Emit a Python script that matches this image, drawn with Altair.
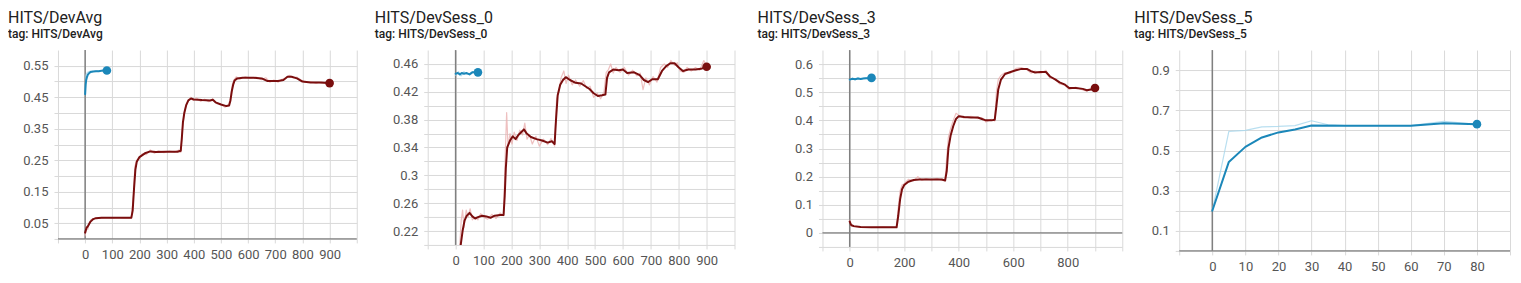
import altair as alt
import pandas as pd

FONT = "Roboto"
GRID = "#d9d9d9"
ZERO = "#808080"
RED = "#7a0e0e"
RED_RAW = "#eab0b0"
BLUE = "#1b87b9"
BLUE_RAW = "#a7d7ec"
TXT = "#212121"
LBL = "#555555"

# ---------------- Panel 1: HITS/DevAvg ----------------
P1_RED = [(0, 0.02), (5, 0.035), (10, 0.04), (20, 0.055), (30, 0.063), (40, 0.066), (60, 0.067),
          (100, 0.067), (140, 0.067), (170, 0.067), (175, 0.09), (180, 0.16), (185, 0.22), (190, 0.245),
          (200, 0.26), (220, 0.272), (240, 0.278), (260, 0.276), (300, 0.277), (340, 0.277), (352, 0.28),
          (356, 0.32), (360, 0.37), (365, 0.40), (372, 0.425), (380, 0.44), (390, 0.446), (400, 0.443),
          (430, 0.441), (460, 0.44), (470, 0.442), (480, 0.434), (500, 0.427), (520, 0.422), (530, 0.424),
          (535, 0.44), (540, 0.47), (545, 0.49), (550, 0.503), (560, 0.51), (580, 0.512), (620, 0.512),
          (650, 0.51), (670, 0.502), (690, 0.502), (710, 0.502), (730, 0.505), (745, 0.515), (760, 0.515),
          (780, 0.51), (800, 0.5), (830, 0.497), (860, 0.497), (900, 0.495)]
P1_RED_RAW = [(0, 0.01), (5, 0.04), (10, 0.03), (15, 0.05), (20, 0.06), (30, 0.065), (45, 0.068), (60, 0.066),
              (80, 0.068), (100, 0.066), (120, 0.068), (140, 0.066), (160, 0.067), (170, 0.066), (178, 0.14),
              (183, 0.23), (190, 0.25), (200, 0.255), (210, 0.27), (225, 0.268), (240, 0.283), (255, 0.272),
              (270, 0.28), (290, 0.274), (310, 0.279), (330, 0.276), (345, 0.282), (352, 0.275), (358, 0.35),
              (364, 0.39), (370, 0.42), (378, 0.435), (388, 0.45), (398, 0.44), (410, 0.448), (425, 0.437),
              (440, 0.444), (455, 0.436), (470, 0.445), (485, 0.43), (500, 0.428), (515, 0.418), (528, 0.426),
              (536, 0.45), (542, 0.49), (548, 0.505), (556, 0.515), (570, 0.508), (590, 0.515), (610, 0.51),
              (630, 0.514), (650, 0.506), (665, 0.512), (680, 0.498), (695, 0.505), (710, 0.498), (725, 0.507),
              (740, 0.512), (752, 0.52), (765, 0.512), (780, 0.514), (795, 0.505), (810, 0.497), (830, 0.5),
              (850, 0.494), (870, 0.499), (890, 0.493), (900, 0.496)]
P1_BLUE = [(0, 0.46), (2, 0.49), (4, 0.505), (7, 0.515), (10, 0.522), (15, 0.527), (20, 0.53), (30, 0.532),
           (40, 0.533), (50, 0.533), (60, 0.534), (70, 0.535), (80, 0.535)]
P1_BLUE_RAW = [(0, 0.46), (3, 0.52), (5, 0.525), (10, 0.53), (20, 0.533), (30, 0.532), (40, 0.535),
               (50, 0.533), (60, 0.535), (70, 0.536), (80, 0.535)]

# ---------------- Panel 2: HITS/DevSess_0 ----------------
P2_RED = [(15, 0.19), (20, 0.205), (25, 0.22), (32, 0.235), (40, 0.242), (50, 0.246), (60, 0.241), (70, 0.238),
          (80, 0.24), (95, 0.242), (110, 0.241), (125, 0.239), (140, 0.242), (160, 0.243), (172, 0.243),
          (176, 0.27), (180, 0.31), (185, 0.34), (195, 0.35), (205, 0.356), (215, 0.352), (225, 0.358),
          (235, 0.362), (245, 0.366), (255, 0.36), (270, 0.355), (290, 0.352), (310, 0.35), (330, 0.347),
          (345, 0.349), (355, 0.345), (360, 0.38), (366, 0.415), (375, 0.43), (385, 0.437), (395, 0.441),
          (410, 0.437), (430, 0.433), (450, 0.432), (465, 0.428), (480, 0.424), (495, 0.418), (510, 0.414),
          (525, 0.415), (537, 0.416), (543, 0.44), (550, 0.448), (565, 0.452), (585, 0.451), (600, 0.452),
          (615, 0.447), (640, 0.448), (660, 0.444), (675, 0.437), (690, 0.434), (705, 0.438), (725, 0.438),
          (740, 0.45), (755, 0.457), (770, 0.461), (785, 0.461), (800, 0.455), (815, 0.45), (835, 0.452),
          (860, 0.452), (880, 0.453), (900, 0.456)]
P2_RED_RAW = [(15, 0.2), (20, 0.235), (25, 0.25), (30, 0.225), (38, 0.25), (45, 0.24), (52, 0.252), (60, 0.236),
              (70, 0.24), (80, 0.236), (90, 0.245), (100, 0.24), (115, 0.237), (130, 0.244), (145, 0.238),
              (160, 0.246), (172, 0.242), (178, 0.33), (183, 0.39), (188, 0.34), (195, 0.36), (202, 0.345),
              (210, 0.362), (220, 0.35), (230, 0.365), (240, 0.358), (248, 0.375), (256, 0.352), (265, 0.358),
              (275, 0.345), (288, 0.356), (300, 0.342), (315, 0.352), (330, 0.344), (342, 0.353), (355, 0.342),
              (362, 0.41), (370, 0.42), (378, 0.44), (388, 0.45), (396, 0.432), (405, 0.444), (418, 0.43),
              (430, 0.437), (445, 0.428), (458, 0.436), (470, 0.425), (482, 0.428), (495, 0.412), (508, 0.418),
              (520, 0.41), (532, 0.42), (540, 0.448), (548, 0.452), (556, 0.46), (565, 0.447), (575, 0.455),
              (590, 0.448), (605, 0.455), (620, 0.444), (635, 0.451), (650, 0.443), (662, 0.447), (672, 0.423),
              (682, 0.44), (695, 0.43), (708, 0.442), (722, 0.434), (735, 0.455), (748, 0.46), (760, 0.455),
              (772, 0.465), (785, 0.458), (795, 0.462), (805, 0.45), (818, 0.448), (830, 0.455), (845, 0.45),
              (860, 0.455), (875, 0.451), (890, 0.465), (900, 0.457)]
P2_BLUE = [(0, 0.446), (8, 0.447), (15, 0.445), (22, 0.447), (30, 0.446), (40, 0.447), (50, 0.445),
           (60, 0.448), (70, 0.448), (80, 0.448)]
P2_BLUE_RAW = [(0, 0.444), (10, 0.449), (20, 0.443), (30, 0.449), (40, 0.445), (50, 0.446), (60, 0.449),
               (70, 0.447), (80, 0.449)]

# ---------------- Panel 3: HITS/DevSess_3 ----------------
P3_RED = [(0, 0.04), (5, 0.028), (15, 0.024), (40, 0.021), (80, 0.02), (120, 0.02), (172, 0.02), (178, 0.06),
          (185, 0.12), (192, 0.155), (200, 0.17), (215, 0.182), (235, 0.188), (255, 0.19), (275, 0.19),
          (300, 0.19), (320, 0.19), (338, 0.19), (350, 0.186), (356, 0.22), (362, 0.3), (370, 0.345),
          (380, 0.38), (390, 0.405), (400, 0.415), (420, 0.412), (445, 0.41), (470, 0.41), (485, 0.405),
          (500, 0.4), (520, 0.4), (532, 0.402), (538, 0.45), (545, 0.51), (555, 0.545), (570, 0.565),
          (590, 0.572), (610, 0.578), (630, 0.583), (650, 0.583), (665, 0.575), (680, 0.57), (700, 0.572),
          (720, 0.572), (735, 0.556), (755, 0.545), (770, 0.535), (790, 0.527), (805, 0.515), (830, 0.515),
          (855, 0.512), (870, 0.507), (885, 0.51), (900, 0.515)]
P3_RED_RAW = [(0, 0.045), (5, 0.025), (15, 0.022), (40, 0.02), (80, 0.019), (120, 0.021), (172, 0.019),
              (178, 0.09), (185, 0.15), (192, 0.17), (200, 0.175), (215, 0.19), (235, 0.186), (250, 0.2),
              (265, 0.187), (280, 0.193), (300, 0.188), (320, 0.194), (338, 0.186), (350, 0.19), (356, 0.27),
              (362, 0.34), (370, 0.37), (380, 0.4), (390, 0.425), (400, 0.418), (420, 0.408), (445, 0.414),
              (470, 0.406), (485, 0.41), (500, 0.394), (520, 0.404), (532, 0.398), (538, 0.5), (545, 0.545),
              (555, 0.56), (570, 0.57), (590, 0.568), (610, 0.585), (630, 0.588), (650, 0.58), (665, 0.568),
              (680, 0.575), (700, 0.567), (720, 0.578), (735, 0.55), (755, 0.548), (770, 0.53), (790, 0.525),
              (805, 0.51), (830, 0.518), (855, 0.508), (870, 0.504), (885, 0.513), (900, 0.516)]
P3_BLUE = [(0, 0.545), (10, 0.548), (20, 0.546), (30, 0.549), (40, 0.547), (50, 0.549), (60, 0.55),
           (70, 0.55), (80, 0.551)]
P3_BLUE_RAW = [(0, 0.543), (10, 0.55), (20, 0.544), (30, 0.551), (40, 0.546), (50, 0.55), (60, 0.551),
               (70, 0.549), (80, 0.552)]

# ---------------- Panel 4: HITS/DevSess_5 ----------------
P4_BLUE = [(0, 0.2), (5, 0.443), (10, 0.518), (15, 0.565), (20, 0.59), (25, 0.605), (30, 0.624), (40, 0.623),
           (50, 0.623), (60, 0.623), (70, 0.636), (80, 0.631)]
P4_BLUE_RAW = [(0, 0.2), (5, 0.595), (10, 0.6), (15, 0.618), (20, 0.62), (25, 0.624), (30, 0.648), (35, 0.628),
               (40, 0.624), (50, 0.624), (60, 0.624), (70, 0.645), (80, 0.63)]

# axis tick/grid values and shown labels
X_GRID_LONG = [-100, 0, 100, 200, 300, 400, 500, 600, 700, 800, 900, 1000]
X_LAB_100 = [0, 100, 200, 300, 400, 500, 600, 700, 800, 900]
X_LAB_200 = [0, 200, 400, 600, 800]
X_GRID_SHORT = [-10, 0, 10, 20, 30, 40, 50, 60, 70, 80, 90]
X_LAB_SHORT = [0, 10, 20, 30, 40, 50, 60, 70, 80]

Y1_GRID = [0, 0.05, 0.1, 0.15, 0.2, 0.25, 0.3, 0.35, 0.4, 0.45, 0.5, 0.55]
Y1_LAB = ["0.05", "0.15", "0.25", "0.35", "0.45", "0.55"]
Y2_GRID = [0.2, 0.22, 0.24, 0.26, 0.28, 0.3, 0.32, 0.34, 0.36, 0.38, 0.4, 0.42, 0.44, 0.46]
Y2_LAB = ["0.22", "0.26", "0.3", "0.34", "0.38", "0.42", "0.46"]
Y3_GRID = [-0.05, 0, 0.05, 0.1, 0.15, 0.2, 0.25, 0.3, 0.35, 0.4, 0.45, 0.5, 0.55, 0.6]
Y3_LAB = ["0", "0.1", "0.2", "0.3", "0.4", "0.5", "0.6"]
Y4_GRID = [0, 0.1, 0.2, 0.3, 0.4, 0.5, 0.6, 0.7, 0.8, 0.9]
Y4_LAB = ["0.1", "0.3", "0.5", "0.7", "0.9"]


def df(pairs):
    return pd.DataFrame(pairs, columns=["x", "y"])


def label_expr_str(labels):
    arr = ",".join("'%s'" % s for s in labels)
    return "indexof([%s], datum.label) >= 0 ? datum.label : ''" % arr


def label_expr_num(values):
    arr = ",".join(str(v) for v in values)
    return "indexof([%s], datum.value) >= 0 ? format(datum.value, 'd') : ''" % arr


def panel(name, series, xdom, ydom, xgrid, xlab, ygrid, ylab, width, height, extent, dx, yzero):
    xs = alt.Scale(domain=xdom, nice=False, zero=False)
    ys = alt.Scale(domain=ydom, nice=False, zero=False)
    common = dict(grid=True, gridColor=GRID, gridWidth=1, domain=False, ticks=True,
                  tickColor=GRID, tickSize=4, labelPadding=6, labelFont=FONT, labelFontSize=13,
                  labelColor=LBL, title=None, labelFlush=False, labelOverlap=False)
    xaxis = alt.Axis(values=xgrid, labelExpr=label_expr_num(xlab), **common)
    yaxis = alt.Axis(values=ygrid, format="~g", labelExpr=label_expr_str(ylab), minExtent=extent,
                     maxExtent=extent, **common)

    def X():
        return alt.X("x:Q", scale=xs, axis=xaxis)

    def Y():
        return alt.Y("y:Q", scale=ys, axis=yaxis)

    frame = pd.DataFrame({"x": [xdom[0], xdom[1]], "y": [ydom[0], ydom[1]]})
    layers = [alt.Chart(frame).mark_point(opacity=0).encode(x=X(), y=Y())]
    layers.append(alt.Chart(pd.DataFrame({"x": [0]})).mark_rule(color=ZERO, strokeWidth=1.5).encode(x=X()))
    if yzero:
        layers.append(alt.Chart(pd.DataFrame({"y": [0]})).mark_rule(color=ZERO, strokeWidth=1.2).encode(y=Y()))
    for pairs, color, width_px, opacity, dot in series:
        d = df(pairs)
        layers.append(alt.Chart(d).mark_line(color=color, strokeWidth=width_px, opacity=opacity, clip=True,
                                             strokeJoin="round", strokeCap="round").encode(
            x=X(), y=Y(), order="x:Q"))
        if dot:
            layers.append(alt.Chart(d.tail(1)).mark_circle(color=color, size=75, opacity=1).encode(x=X(), y=Y()))
    return alt.layer(*layers).properties(
        width=width, height=height,
        title=alt.TitleParams(text=name, subtitle="tag: " + name, anchor="start", frame="group", dx=dx,
                              font=FONT, fontSize=16, fontWeight="normal", color=TXT,
                              subtitleFont=FONT, subtitleFontSize=12, subtitleFontWeight=500,
                              subtitleColor=TXT, subtitlePadding=3, offset=7))


p1 = panel("HITS/DevAvg",
           [(P1_RED_RAW, RED_RAW, 1.2, 0.8, False), (P1_BLUE_RAW, BLUE_RAW, 1.2, 0.8, False),
            (P1_RED, RED, 2, 1, True), (P1_BLUE, BLUE, 2, 1, True)],
           [-100, 1000], [0, 0.6], X_GRID_LONG, X_LAB_100, Y1_GRID, Y1_LAB, 299, 189, 50, -50, True)
p2 = panel("HITS/DevSess_0",
           [(P2_RED_RAW, RED_RAW, 1.2, 0.8, False), (P2_BLUE_RAW, BLUE_RAW, 1.2, 0.8, False),
            (P2_RED, RED, 2, 1, True), (P2_BLUE, BLUE, 2, 1, True)],
           [-100, 1000], [0.2, 0.48], X_GRID_LONG, X_LAB_100, Y2_GRID, Y2_LAB, 307, 195, 68, -53, False)
p3 = panel("HITS/DevSess_3",
           [(P3_RED_RAW, RED_RAW, 1.2, 0.8, False), (P3_BLUE_RAW, BLUE_RAW, 1.2, 0.8, False),
            (P3_RED, RED, 2, 1, True), (P3_BLUE, BLUE, 2, 1, True)],
           [-100, 1000], [-0.05, 0.65], X_GRID_LONG, X_LAB_200, Y3_GRID, Y3_LAB, 300, 197, 85, -65, True)
p4 = panel("HITS/DevSess_5",
           [(P4_BLUE_RAW, BLUE_RAW, 1.2, 0.8, False), (P4_BLUE, BLUE, 2, 1, True)],
           [-10, 90], [0, 1.0], X_GRID_SHORT, X_LAB_SHORT, Y4_GRID, Y4_LAB, 331, 201, 54, -45, True)

chart = alt.hconcat(p1, p2, p3, p4, spacing=0).properties(
    padding={"top": 2, "left": 0, "right": 0, "bottom": 0}).configure_view(stroke=None)

chart.save("out.html", embed_options={"renderer": "svg", "actions": False})
